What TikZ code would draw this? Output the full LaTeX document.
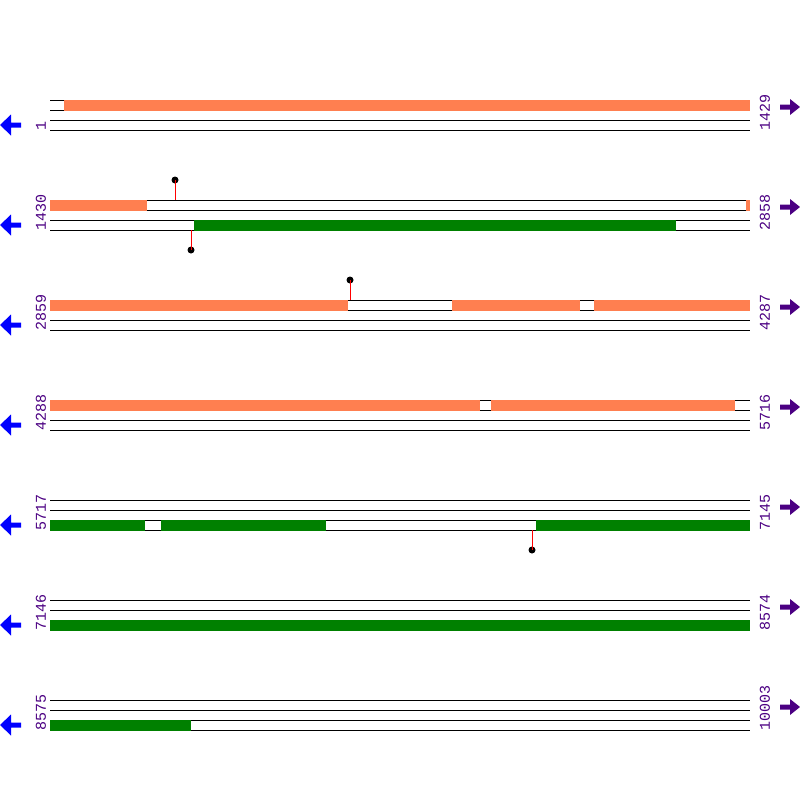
\documentclass[tikz,border=0pt]{standalone}
\usepackage{fontspec}
\setmonofont{Liberation Mono}
\usepackage{xcolor}
\usepackage{tikz}
\definecolor{fwdcol}{RGB}{255,127,80}
\definecolor{revcol}{RGB}{0,128,0}
\definecolor{numcol}{RGB}{75,0,130}

\tikzset{
    fwd/.style={fill=fwdcol},
    rev/.style={fill=revcol},
    pin/.style={red, line width=1pt},
    pinhead/.style={circle, fill=black, inner sep=0pt, minimum size=7pt},
    numlabel/.style={rotate=90, anchor=west, inner sep=0pt, text=numcol,
        font=\ttfamily\fontsize{15}{15}\selectfont}
}

\begin{document}
\begin{tikzpicture}[x=1pt, y=-1pt, line width=1pt]
    \useasboundingbox (0,0) rectangle (800,800);
    % strand lines, end numbers and direction arrows for each row
    \foreach \r/\lft/\rgt in {100/1/1429, 200/1430/2858, 300/2859/4287, 400/4288/5716,
            500/5717/7145, 600/7146/8574, 700/8575/10003} {
        \foreach \dy in {0,10,20,30}
            \draw (50,\r+\dy) -- (750,\r+\dy);
        \node[numlabel] (l\r) at (41,\r+31) {\lft};
        \node[numlabel] (r\r) at (765,\r+31) {\rgt};
        \fill[blue] (0,\r+25) -- (11,\r+14.5) -- (11,\r+22.5) -- (21,\r+22.5)
            -- (21,\r+27.5) -- (11,\r+27.5) -- (11,\r+35.5) -- cycle;
        \fill[numcol] (800,\r+7) -- (790,\r-1) -- (790,\r+4.5) -- (780,\r+4.5)
            -- (780,\r+9.5) -- (790,\r+9.5) -- (790,\r+15) -- cycle;
    }
    % row 1
    \fill[fwd] (64,99.5) rectangle (750,110.5);
    % row 2
    \fill[fwd] (50,199.5) rectangle (147,210.5);
    \fill[fwd] (746,199.5) rectangle (750,210.5);
    \fill[rev] (194,219.5) rectangle (676,230.5);
    \node[pinhead] (p1) at (175,180) {};
    \draw[pin] (p1.center) -- (175,200);
    \node[pinhead] (p2) at (191,250) {};
    \draw[pin] (191,230) -- (p2.center);
    % row 3
    \fill[fwd] (50,299.5) rectangle (348,310.5);
    \fill[fwd] (452,299.5) rectangle (580,310.5);
    \fill[fwd] (594,299.5) rectangle (750,310.5);
    \node[pinhead] (p3) at (350,280) {};
    \draw[pin] (p3.center) -- (350,300);
    % row 4
    \fill[fwd] (50,399.5) rectangle (480,410.5);
    \fill[fwd] (491,399.5) rectangle (735,410.5);
    % row 5
    \fill[rev] (50,519.5) rectangle (145,530.5);
    \fill[rev] (161,519.5) rectangle (326,530.5);
    \fill[rev] (536,519.5) rectangle (750,530.5);
    \node[pinhead] (p4) at (532,550) {};
    \draw[pin] (532,530) -- (p4.center);
    % row 6
    \fill[rev] (50,619.5) rectangle (750,630.5);
    % row 7
    \fill[rev] (50,719.5) rectangle (191,730.5);
\end{tikzpicture}
\end{document}
